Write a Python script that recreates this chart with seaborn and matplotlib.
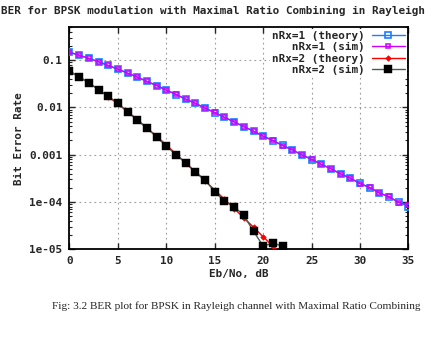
import numpy as np
import pandas as pd
import matplotlib
matplotlib.use("Agg")
import matplotlib.pyplot as plt
import seaborn as sns
from matplotlib.ticker import LogLocator, NullFormatter

# Eb/No axis (dB)
ebno_1 = list(range(0, 36))
ebno_2_theory = list(range(0, 23))
ebno_2_sim = list(range(0, 23))

# BER values
ber_1_theory = [0.1464, 0.1267, 0.1085, 0.0919, 0.0771, 0.0642, 0.0530, 0.0435, 0.0355, 0.0288,
                0.0233, 0.0187, 0.0150, 0.0121, 0.00967, 0.00774, 0.00618, 0.00493, 0.00393, 0.00313,
                0.00248, 0.00198, 0.00158, 0.00125, 0.000995, 0.000791, 0.000628, 0.000499, 0.000396,
                0.000315, 0.000250, 0.000199, 0.000158, 0.000126, 0.0000997, 0.0000792]
ber_1_sim = [0.1459, 0.1271, 0.1082, 0.0922, 0.0768, 0.0645, 0.0528, 0.0437, 0.0353, 0.0290,
             0.0231, 0.0188, 0.0149, 0.0122, 0.00961, 0.00780, 0.00612, 0.00497, 0.00390, 0.00316,
             0.00245, 0.00201, 0.00155, 0.00128, 0.000982, 0.000802, 0.000621, 0.000507, 0.000389,
             0.000322, 0.000243, 0.000204, 0.000153, 0.000131, 0.0000960, 0.0000880]
ber_2_theory = [0.0580, 0.0441, 0.0328, 0.0238, 0.0169, 0.0118, 0.00813, 0.00551, 0.00369, 0.00244,
                0.00160, 0.00104, 0.000668, 0.000436, 0.000279, 0.000179, 0.000114, 0.0000727,
                0.0000462, 0.0000293, 0.0000184, 0.0000117, 0.0000075]
ber_2_sim = [0.0583, 0.0444, 0.0330, 0.0238, 0.0171, 0.0122, 0.00806, 0.00535, 0.00362, 0.00236,
             0.00152, 0.00100, 0.000662, 0.000430, 0.000294, 0.000163, 0.000105, 0.0000800,
             0.0000520, 0.0000240, 0.0000117, 0.0000135, 0.0000117]

labels = ["nRx=1 (theory)", "   nRx=1 (sim)", "nRx=2 (theory)", "   nRx=2 (sim)"]
x_ticks = [0, 5, 10, 15, 20, 25, 30, 35]
y_ticks = [1e-5, 1e-4, 1e-3, 1e-2, 1e-1]
y_tick_labels = ["1e-05", "1e-04", "0.001", "0.01", "0.1"]

sns.set_style("ticks")
mono = {"family": "DejaVu Sans Mono", "weight": "bold", "size": 7.9}

fig = plt.figure(figsize=(4.39, 3.62), dpi=100)
ax = fig.add_axes([0.1583, 0.3113, 0.7722, 0.6141])
ax.set_yscale("log")

sns.lineplot(x=ebno_1, y=ber_1_theory, ax=ax, color="#1a7fff", lw=1.0, marker="s", ms=4.4,
             mfc="none", mec="#1a7fff", mew=1.2, label=labels[0], zorder=3)
sns.lineplot(x=ebno_1, y=ber_1_sim, ax=ax, color="#cc00ff", lw=1.0, marker="s", ms=2.6,
             mfc="none", mec="#cc00ff", mew=1.1, label=labels[1], zorder=4)
sns.lineplot(x=ebno_2_theory, y=ber_2_theory, ax=ax, color="#ff0000", lw=1.0, marker="D", ms=2.8,
             mfc="#ff0000", mec="#ff0000", mew=0.5, label=labels[2], zorder=5)
sns.lineplot(x=ebno_2_sim, y=ber_2_sim, ax=ax, color="#4a5e50", lw=1.0, marker="s", ms=5.2,
             mfc="black", mec="black", mew=0.3, label=labels[3], zorder=6)

ax.set_xlim(0, 35)
ax.set_ylim(1e-5, 0.5)
ax.set_xticks(x_ticks)
ax.set_xticklabels([str(t) for t in x_ticks], fontdict=mono)
ax.set_yticks(y_ticks)
ax.set_yticklabels(y_tick_labels, fontdict=mono)
ax.yaxis.set_minor_locator(LogLocator(base=10, subs=np.arange(2, 10)))
ax.yaxis.set_minor_formatter(NullFormatter())

ax.tick_params(which="major", direction="in", length=4, width=1, top=True, right=True, pad=5)
ax.tick_params(which="minor", direction="in", length=2, width=0.8, top=True, right=True)
for s in ax.spines.values():
    s.set_linewidth(1.3)
    s.set_color("black")

ax.grid(True, which="major", color="#9a9a9a", linestyle=(0, (1.5, 3)), linewidth=0.8, zorder=0)
ax.set_axisbelow(True)

ax.set_xlabel("Eb/No, dB", fontdict=mono, labelpad=2)
ax.set_ylabel("Bit Error Rate", fontdict=mono, labelpad=4)

leg = ax.legend(loc="upper right", markerfirst=False, frameon=True, fancybox=False,
                prop={"family": "DejaVu Sans Mono", "weight": "bold", "size": 7.9},
                handlelength=3.0, handletextpad=0.6, labelspacing=0.12, borderaxespad=0.15,
                borderpad=0.2)
leg.get_frame().set_facecolor("white")
leg.get_frame().set_edgecolor("none")
leg.get_frame().set_alpha(1.0)

fig.text(1 / 439, 1 - 11 / 362, "BER for BPSK modulation with Maximal Ratio Combining in Rayleigh",
         ha="left", va="center", fontdict=mono)
fig.text(52 / 439, 1 - 306 / 362,
         "Fig: 3.2 BER plot for BPSK in Rayleigh channel with Maximal Ratio Combining",
         ha="left", va="center", family="Liberation Serif", fontsize=8.15)

fig.savefig("out.png", dpi=100)
